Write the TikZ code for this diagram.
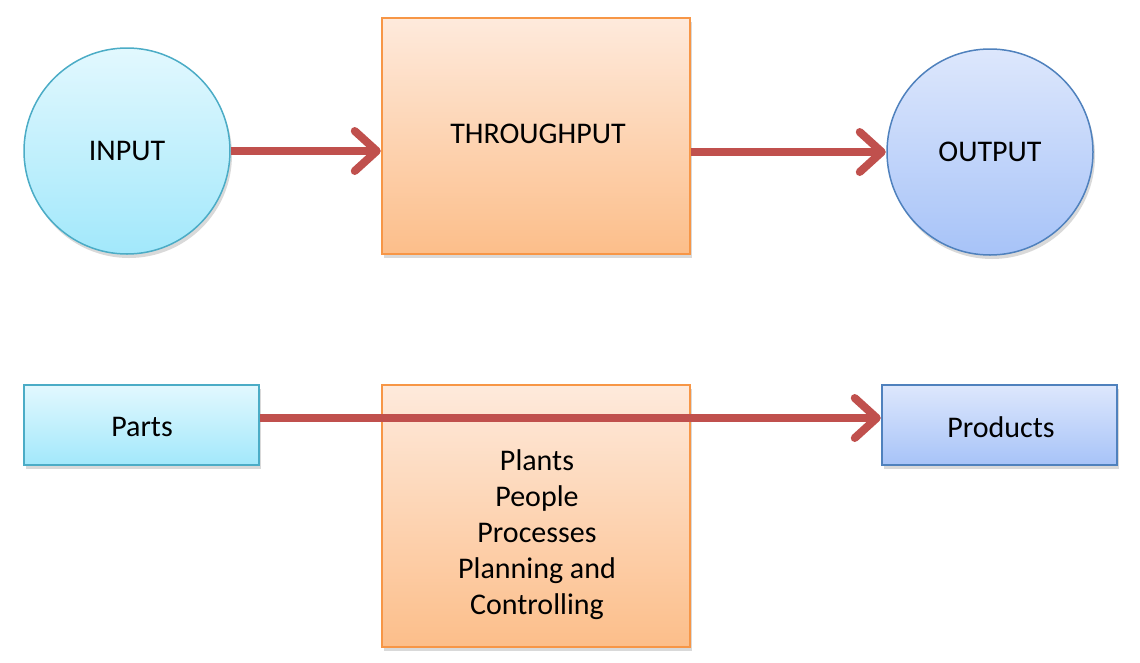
\documentclass[tikz,border=0pt]{standalone}
\usepackage{fontspec}
\setmainfont{Carlito}
\usetikzlibrary{arrows.meta,shadows}
\definecolor{cyanTop}{HTML}{E2F8FE}
\definecolor{cyanBot}{HTML}{A2E8FB}
\definecolor{cyanLine}{HTML}{4BACC6}
\definecolor{orTop}{HTML}{FEEADC}
\definecolor{orBot}{HTML}{FCBE8A}
\definecolor{orLine}{HTML}{F79646}
\definecolor{blTop}{HTML}{DDE7FC}
\definecolor{blBot}{HTML}{A7C3F8}
\definecolor{blLine}{HTML}{4F81BD}
\definecolor{arrRed}{HTML}{C0504D}
\tikzset{
  shad/.style={drop shadow={shadow xshift=2pt, shadow yshift=-4pt, opacity=0.25, fill=black!60}},
  incirc/.style={circle, shad, draw=cyanLine, line width=1.5pt, top color=cyanTop, bottom color=cyanBot, minimum size=206pt, inner sep=0pt},
  outcirc/.style={circle, shad, draw=blLine, line width=1.5pt, top color=blTop, bottom color=blBot, minimum size=206pt, inner sep=0pt},
  orbox/.style={rectangle, shad, draw=orLine, line width=1.5pt, top color=orTop, bottom color=orBot, inner sep=0pt},
  cybox/.style={rectangle, shad, draw=cyanLine, line width=1.5pt, top color=cyanTop, bottom color=cyanBot, minimum width=235pt, minimum height=80pt, inner sep=0pt},
  blbox/.style={rectangle, shad, draw=blLine, line width=1.5pt, top color=blTop, bottom color=blBot, minimum width=235pt, minimum height=80pt, inner sep=0pt},
  redarrow/.style={draw=arrRed, line width=8pt, -{Straight Barb[length=22pt, width=40pt, round]}, shorten >=0.5pt},
  txt/.style={font=\fontsize{30}{36}\selectfont, text=black}
}
\begin{document}
\begin{tikzpicture}[x=1pt,y=-1pt]
\useasboundingbox (0,0) rectangle (1140,662);
\node[incirc, txt] (input) at (127,151) {INPUT};
\node[orbox, minimum width=308pt, minimum height=236pt] (through) at (536,136) {};
\node[txt, inner sep=0pt] (throughtext) at (538,134) {THROUGHPUT};
\node[outcirc, txt] (output) at (990,152) {OUTPUT};
\node[cybox, minimum width=235pt, minimum height=80pt] (parts) at (141.5,425) {};
\node[txt, inner sep=0pt] (partstext) at (142,427) {Parts};
\node[orbox, minimum width=308pt, minimum height=262pt] (proc) at (536,516) {};
\node[txt, align=center, inner sep=0pt] (proctext) at (537,535) {Plants\\People\\Processes\\Planning and\\Controlling};
\node[blbox] (products) at (999.5,425) {};
\node[txt, inner sep=0pt] (productstext) at (1001,427) {Products};
\draw[redarrow] (input.east) -- (through.west |- input.east);
\draw[redarrow] (through.east |- output.west) -- (output.west);
\draw[redarrow] (parts.east |- 0,418) -- (products.west |- 0,418);
\end{tikzpicture}
\end{document}
